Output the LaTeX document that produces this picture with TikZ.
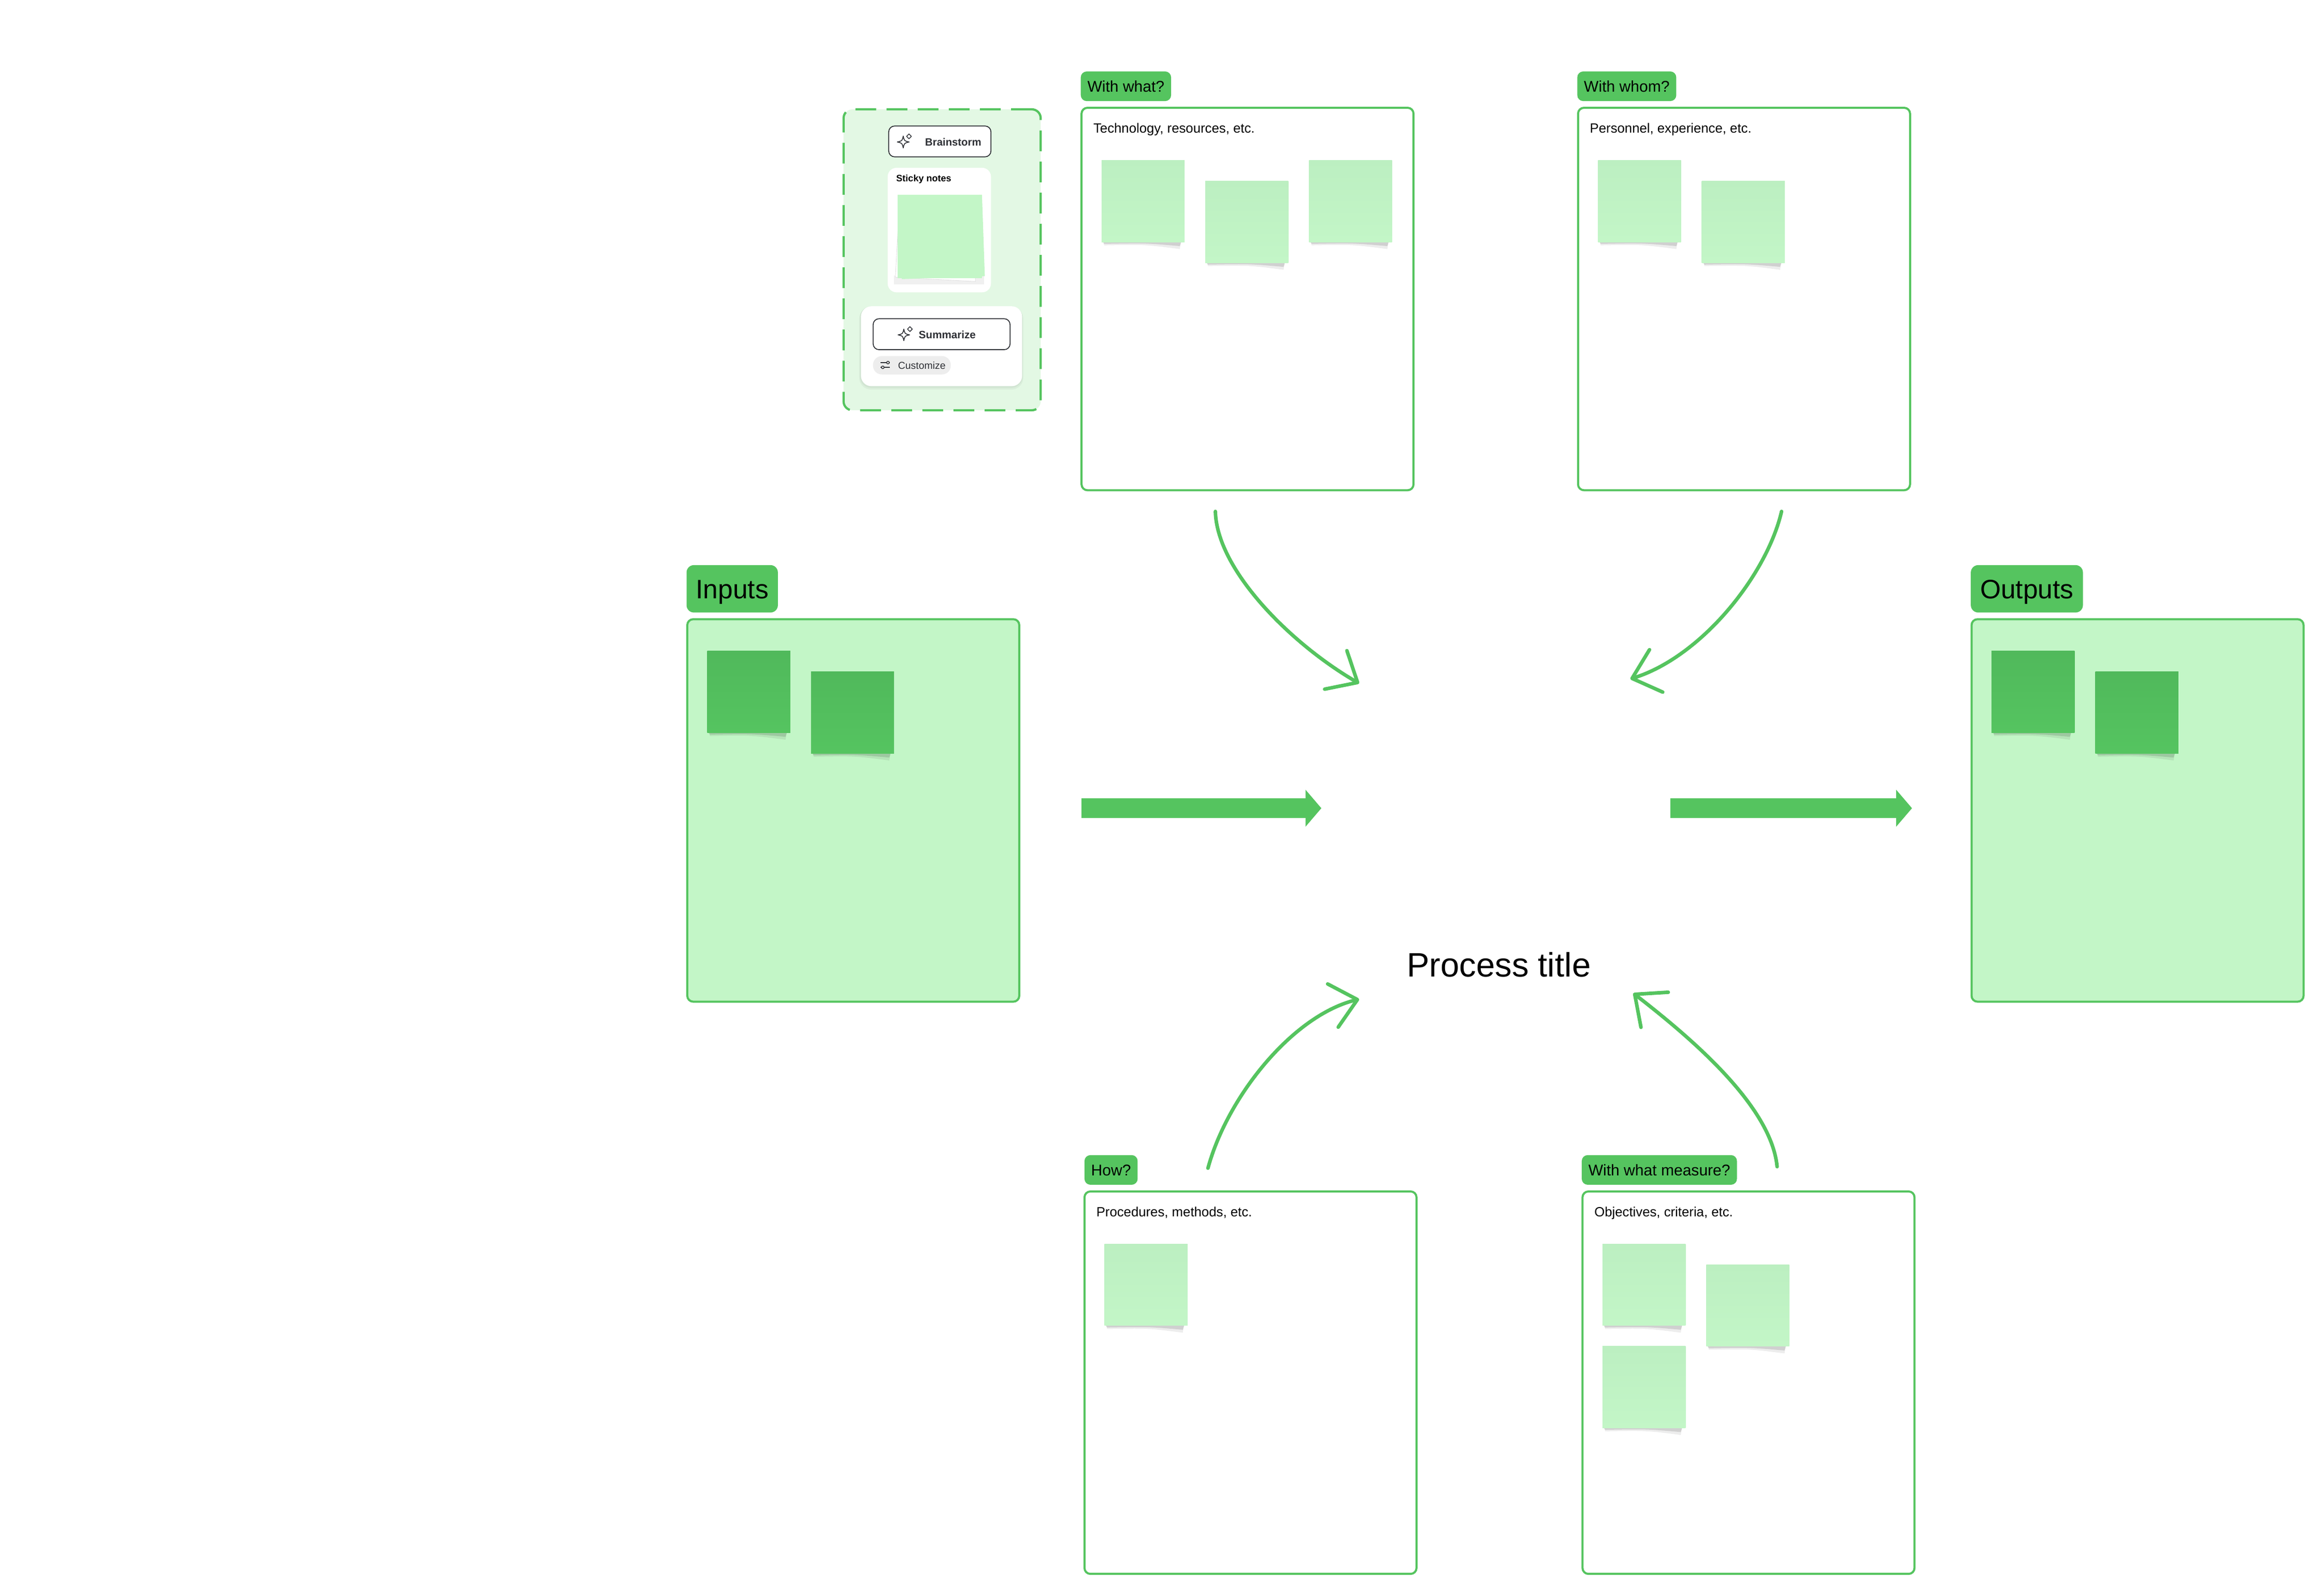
\documentclass[tikz,border=0pt]{standalone}
\usepackage{fontspec}
\setmainfont{Liberation Sans}
\usetikzlibrary{arrows.meta}
\definecolor{mgreen}{HTML}{55C45F}
\definecolor{lightg}{HTML}{C3F6C7}
\definecolor{stickytop}{HTML}{BCEFC1}
\definecolor{darkstick}{HTML}{55C460}
\definecolor{darksticktop}{HTML}{50B95B}
\definecolor{wfill}{HTML}{E3F8E4}
\definecolor{uidark}{HTML}{2E3035}
\definecolor{pillgray}{HTML}{EDEDED}
\newcommand\fsz[1]{\fontsize{#1}{#1}\selectfont}
\newcommand\stickyshadow[2]{%
  \fill[black,opacity=0.07] ({#1+1},{#2+54}) -- ({#1+54},{#2+54}) -- ({#1+53},{#2+60}) .. controls ({#1+30},{#2+57}) .. ({#1+2},{#2+57.5}) -- cycle;
  \fill[black,opacity=0.12] ({#1+1},{#2+55}) -- ({#1+54},{#2+55}) -- ({#1+53},{#2+58}) .. controls ({#1+30},{#2+56}) .. ({#1+2},{#2+56.5}) -- cycle;
}
\newcommand\sticky[4]{%
  \stickyshadow{#2}{#3}
  \node[#4, anchor=north west] (#1) at (#2,#3) {};
}
\newcommand\sparkle[6]{%
  \draw[uidark, line width=0.55pt, line join=round]
    ({#1},{#2-#3}) .. controls ({#1+0.18*#3},{#2-0.18*#3}) .. ({#1+#3},{#2})
    .. controls ({#1+0.18*#3},{#2+0.18*#3}) .. ({#1},{#2+#3})
    .. controls ({#1-0.18*#3},{#2+0.18*#3}) .. ({#1-#3},{#2})
    .. controls ({#1-0.18*#3},{#2-0.18*#3}) .. ({#1},{#2-#3}) -- cycle;
  \draw[uidark, line width=0.5pt, line join=round]
    ({#4},{#5-#6}) -- ({#4+#6},{#5}) -- ({#4},{#5+#6}) -- ({#4-#6},{#5}) -- cycle;
}
\tikzset{
  box/.style={draw=mgreen, line width=1.4pt, rounded corners=4pt, fill=white,
    minimum width=224pt, minimum height=258pt, inner sep=0pt, anchor=north west},
  bigbox/.style={box, fill=lightg},
  lab/.style={fill=mgreen, rounded corners=4pt, inner xsep=4.5pt, inner ysep=0pt,
    minimum height=20pt, text height=7.6pt, text depth=0pt, font=\fsz{10.5}, anchor=north west},
  biglab/.style={fill=mgreen, rounded corners=5pt, inner xsep=6.3pt, inner ysep=0pt,
    minimum height=32pt, text height=13pt, text depth=0pt, font=\fsz{18}, anchor=north west},
  desc/.style={font=\fsz{9}, anchor=base west, inner sep=0pt},
  stickyL/.style={minimum width=56pt, minimum height=55pt, inner sep=0pt,
    top color=stickytop, middle color=lightg, bottom color=lightg},
  stickyD/.style={minimum width=56pt, minimum height=55pt, inner sep=0pt,
    top color=darksticktop, middle color=darkstick, bottom color=darkstick},
  blockarrow/.style={draw=mgreen, line width=13.2pt,
    -{Triangle[length=10.7pt,width=25pt,line width=0pt]}},
  curvearrow/.style={draw=mgreen, line width=2.4pt, line cap=round,
    -{Straight Barb[length=17pt,width=30pt,round]}},
  btn/.style={fill=white, draw=uidark, line width=0.6pt, rounded corners=4pt,
    inner sep=0pt, anchor=north west},
  uitext/.style={text=uidark, anchor=base west, inner sep=0pt},
}
\begin{document}
\begin{tikzpicture}[x=1pt,y=-1pt]
\fill[white] (0,0) rectangle (1568,1075);
\useasboundingbox (0,0) rectangle (1568,1075);

% ---------- widget ----------
\node[draw=mgreen, line width=1.5pt, dash pattern=on 14pt off 7pt, fill=wfill,
  rounded corners=6pt, minimum width=133pt, minimum height=203pt, inner sep=0pt,
  anchor=north west] (widget) at (568.4,73) {};
\node[btn, minimum width=69pt, minimum height=20.8pt] (brainstorm) at (599.3,84.7) {};
\node[uitext, font=\bfseries\fsz{7.1}] (brainstormlabel) at (624,98.3) {Brainstorm};
\sparkle{609.4}{95.8}{4}{613.3}{92}{1.6}
\node[fill=white, rounded corners=6pt, minimum width=69.7pt, minimum height=84pt,
  inner sep=0pt, anchor=north west] (stickycard) at (598.7,113) {};
\node[anchor=base west, inner sep=0pt, font=\bfseries\fsz{6.3}] (stickylabel) at (604.5,122.6) {Sticky notes};
\fill[black,opacity=0.06] (603,186) rectangle (664,192);
\node[fill=white, draw=black!12, line width=0.3pt, minimum width=54pt, minimum height=54pt,
  inner sep=0pt, rotate=-3] (sheetw) at (632.5,161.5) {};
\node[fill=lightg, minimum width=56pt, minimum height=55pt, inner sep=0pt, rotate=2] (sheetg) at (635.5,159.8) {};
\node[fill=lightg, minimum width=57pt, minimum height=56pt, inner sep=0pt] (stacktop) at (634,159.5) {};
\fill[black,opacity=0.04, rounded corners=8pt] (579.7,206.9) rectangle (690.4,262.8);
\fill[black,opacity=0.04, rounded corners=7.5pt] (580.2,206.6) rectangle (689.9,261.6);
\node[fill=white, rounded corners=7pt, minimum width=108.7pt, minimum height=53.9pt,
  inner sep=0pt, anchor=north west] (sumpanel) at (580.7,206.4) {};
\node[btn, minimum width=92.4pt, minimum height=20.9pt] (summarize) at (588.8,214.7) {};
\node[uitext, font=\bfseries\fsz{7.2}] (summarizelabel) at (619.7,228.3) {Summarize};
\sparkle{609.8}{225.9}{3.9}{613.9}{222}{1.65}
\node[fill=pillgray, rounded corners=6pt, minimum width=52.5pt, minimum height=12.4pt,
  inner sep=0pt, anchor=north west] (customize) at (588.8,240) {};
\node[uitext, font=\fsz{6.8}] (customizelabel) at (605.7,249) {Customize};
\draw[uidark, line width=0.5pt] (594.1,244.6) -- (600.5,244.6) (594.1,247.8) -- (600.5,247.8);
\filldraw[fill=pillgray, draw=uidark, line width=0.5pt] (599.1,244.6) circle (0.9pt) (595.6,247.8) circle (0.9pt);

% ---------- top boxes ----------
\node[lab] (labwhat) at (729,48) {With what?};
\node[box] (boxwhat) at (729,72) {};
\node[desc] (descwhat) at (737.5,89.8) {Technology, resources, etc.};
\sticky{w1}{743}{108}{stickyL}
\sticky{w2}{813}{122}{stickyL}
\sticky{w3}{883}{108}{stickyL}

\node[lab] (labwhom) at (1064,48) {With whom?};
\node[box] (boxwhom) at (1064,72) {};
\node[desc] (descwhom) at (1072.5,89.8) {Personnel, experience, etc.};
\sticky{p1}{1078}{108}{stickyL}
\sticky{p2}{1148}{122}{stickyL}

% ---------- inputs / outputs ----------
\node[biglab] (labin) at (463,381) {Inputs};
\node[bigbox] (inputs) at (463,417) {};
\sticky{i1}{477}{439}{stickyD}
\sticky{i2}{547}{453}{stickyD}

\node[biglab] (labout) at (1329.5,381) {Outputs};
\node[bigbox] (outputs) at (1329.5,417) {};
\sticky{o1}{1343.5}{439}{stickyD}
\sticky{o2}{1413.5}{453}{stickyD}

% ---------- bottom boxes ----------
\node[lab] (labhow) at (731.5,779) {How?};
\node[box] (boxhow) at (731,803) {};
\node[desc] (deschow) at (739.5,820.8) {Procedures, methods, etc.};
\sticky{h1}{745}{839}{stickyL}

\node[lab] (labmeasure) at (1067,779) {With what measure?};
\node[box] (boxmeasure) at (1067,803) {};
\node[desc] (descmeasure) at (1075.5,820.8) {Objectives, criteria, etc.};
\sticky{m1}{1081}{839}{stickyL}
\sticky{m2}{1151}{853}{stickyL}
\sticky{m3}{1081}{908}{stickyL}

% ---------- centre ----------
\node[anchor=base, inner sep=0pt, font=\fsz{22.8}] (title) at (1011.2,659) {Process title};

% ---------- connectors ----------
\coordinate (bas) at (729.7,545.2);
\coordinate (bae) at (891.5,545.2);
\coordinate (bbs) at (1127,545.2);
\coordinate (bbe) at (1290,545.2);
\draw[blockarrow] (bas) -- (bae);
\draw[blockarrow] (bbs) -- (bbe);

\coordinate (c1s) at (820,345);
\coordinate (c1e) at (917,461);
\coordinate (c2s) at (1202,345);
\coordinate (c2e) at (1100,458);
\coordinate (c3s) at (815,788);
\coordinate (c3e) at (917,674);
\coordinate (c4s) at (1199,787);
\coordinate (c4e) at (1102,670);
\draw[curvearrow] (c1s) .. controls (821,385) and (872,435) .. (c1e);
\draw[curvearrow] (c2s) .. controls (1192,388) and (1148,443) .. (c2e);
\draw[curvearrow] (c3s) .. controls (828,740) and (872,685) .. (c3e);
\draw[curvearrow] (c4s) .. controls (1195,745) and (1138,698) .. (c4e);
\end{tikzpicture}
\end{document}
